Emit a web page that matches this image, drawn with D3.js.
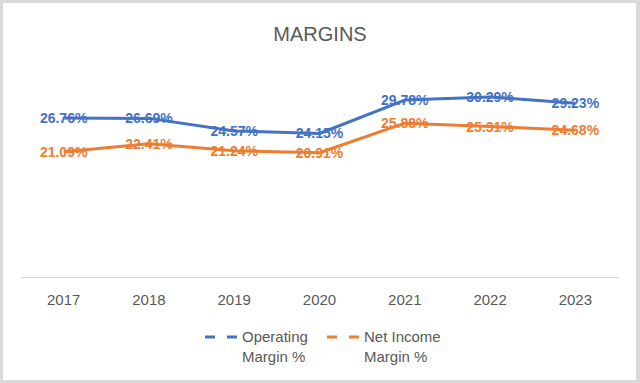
<!DOCTYPE html>
<html>
<head>
<meta charset="utf-8">
<script src="https://cdn.jsdelivr.net/npm/d3@7"></script>
<style>
  body { margin: 0; background: #fff; }
  svg { display: block; font-family: "Liberation Sans", Arial, sans-serif; }
</style>
</head>
<body>
<svg></svg>
<script>
var w = 640, h = 383

var years = ["2017", "2018", "2019", "2020", "2021", "2022", "2023"]
var operating = [26.76, 26.69, 24.57, 24.15, 29.78, 30.29, 29.23]
var netIncome = [21.09, 22.41, 21.24, 20.91, 25.88, 25.31, 24.68]
var seriesNames = [["Operating", "Margin %"], ["Net Income", "Margin %"]]
var colors = ["#4472C4", "#ED7D31"]

var svg = d3.select("svg")
    .attr("width", w)
    .attr("height", h)

// frame
svg.append("rect")
    .attr("width", w)
    .attr("height", h)
    .attr("fill", "#d9d9d9")
svg.append("rect")
    .attr("x", 3)
    .attr("y", 3)
    .attr("width", 633)
    .attr("height", 377)
    .attr("fill", "#fff")

svg.append("text")
    .attr("x", 320)
    .attr("y", 41)
    .attr("text-anchor", "middle")
    .attr("font-size", 20)
    .attr("fill", "#595959")
    .text("MARGINS")

var x = d3.scaleBand()
    .domain(years)
    .range([21, 618])

var y = d3.scaleLinear()
    .domain([0, 35])
    .range([277, 69])

// category axis
var xAxis = svg.append("g")
    .attr("transform", "translate(0," + y(0) + ")")
    .call(d3.axisBottom(x).tickSize(0).tickPadding(17))
xAxis.select(".domain")
    .attr("stroke", "#d9d9d9")
    .attr("stroke-width", 1)
xAxis.selectAll("text")
    .attr("font-size", 15)
    .attr("font-family", "Liberation Sans, Arial, sans-serif")
    .attr("fill", "#595959")

var series = [operating, netIncome]

var line = d3.line()
    .x(function(d, i) { return x(years[i]) + x.bandwidth() / 2 })
    .y(function(d) { return y(d) })

series.forEach(function(s, k) {
    svg.append("path")
        .datum(s)
        .attr("d", line)
        .attr("fill", "none")
        .attr("stroke", colors[k])
        .attr("stroke-width", 3)
        .attr("stroke-linejoin", "round")
})

series.forEach(function(s, k) {
    svg.append("g").selectAll("text")
        .data(s)
        .join("text")
        .attr("x", function(d, i) { return x(years[i]) + x.bandwidth() / 2 })
        .attr("y", function(d) { return y(d) + 5 })
        .attr("text-anchor", "middle")
        .attr("font-size", 14)
        .attr("font-weight", "bold")
        .attr("fill", colors[k])
        .text(function(d) { return d.toFixed(2) + "%" })
})

// legend
var legendX = [205, 327]
seriesNames.forEach(function(name, k) {
    var g = svg.append("g")
        .attr("transform", "translate(" + legendX[k] + ",337)")
    g.append("line")
        .attr("x1", 0)
        .attr("x2", 35)
        .attr("y1", 0)
        .attr("y2", 0)
        .attr("stroke", colors[k])
        .attr("stroke-width", 3)
        .attr("stroke-dasharray", "10,12")
    g.append("text")
        .attr("x", 37)
        .attr("y", 5)
        .attr("font-size", 15)
        .attr("fill", "#595959")
        .text(name[0])
    g.append("text")
        .attr("x", 37)
        .attr("y", 25)
        .attr("font-size", 15)
        .attr("fill", "#595959")
        .text(name[1])
})
</script>
</body>
</html>
